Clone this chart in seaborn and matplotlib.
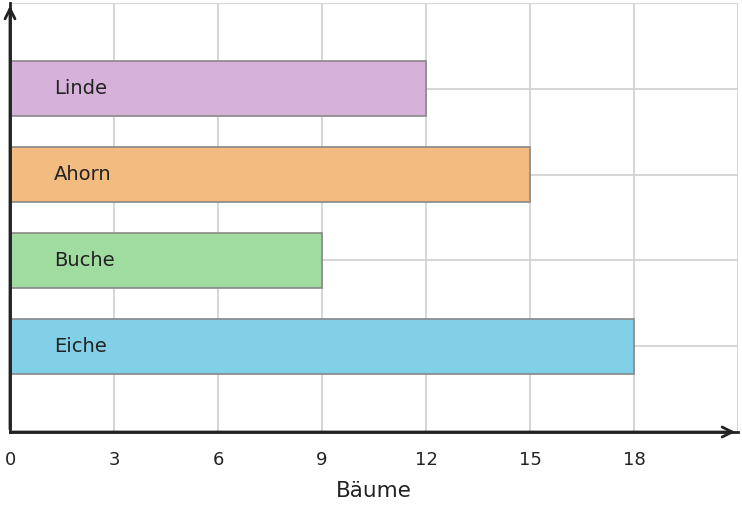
import matplotlib
matplotlib.use('Agg')
import matplotlib.pyplot as plt
import seaborn as sns
import pandas as pd

# Daten
baumarten = ['Linde', 'Ahorn', 'Buche', 'Eiche']
anzahl = [12, 15, 9, 18]
farben = ['#d6b1d9', '#f2bb80', '#a0dba0', '#82cfe8']
x_ticks = [0, 3, 6, 9, 12, 15, 18, 21]
x_labels = ['0', '3', '6', '9', '12', '15', '18', '']

sns.set_style('white')
plt.rcParams['font.family'] = ['DejaVu Sans']

df = pd.DataFrame({'art': baumarten, 'n': anzahl})

fig = plt.figure(figsize=(7.42, 5.08), dpi=100)
ax = fig.add_axes([10 / 742, 76 / 508, 728 / 742, 429 / 508])

sns.barplot(data=df, x='n', y='art', hue='art', order=baumarten,
            palette=farben, saturation=1, orient='h', width=0.64, ax=ax,
            edgecolor='#888888', linewidth=1.2, legend=False, zorder=2)

ax.set_xlim(0, 21)
ax.set_ylim(4, -1)
ax.set_xticks(x_ticks)
ax.set_xticklabels(x_labels, fontsize=13, color='#222222')
ax.set_yticks([-1, 0, 1, 2, 3])
ax.set_yticklabels([])
ax.tick_params(axis='x', direction='in', length=6, width=1.5, color='#222222', pad=14)
ax.tick_params(axis='y', length=0)
ax.grid(True, color='#d0d0d0', linewidth=1.2, zorder=0)
ax.set_axisbelow(True)

# Beschriftungen in den Balken
for i, name in enumerate(baumarten):
    ax.text(1.27, i, name, va='center', ha='left', fontsize=14, color='#222222', zorder=3)

ax.set_xlabel('Bäume', fontsize=15.5, color='#222222', labelpad=8)
ax.set_ylabel('')

for s in ['top', 'right']:
    ax.spines[s].set_visible(False)
for s in ['left', 'bottom']:
    ax.spines[s].set_color('#222222')
    ax.spines[s].set_linewidth(2)

# Pfeile an den Achsen
ax.annotate('', xy=(1.0, 0), xytext=(0, 0), xycoords='axes fraction',
            arrowprops=dict(arrowstyle='->', color='#222222', lw=2, mutation_scale=18),
            annotation_clip=False)
ax.annotate('', xy=(0, 1.0), xytext=(0, 0), xycoords='axes fraction',
            arrowprops=dict(arrowstyle='->', color='#222222', lw=2, mutation_scale=18),
            annotation_clip=False)

fig.savefig('out.png', dpi=100)
